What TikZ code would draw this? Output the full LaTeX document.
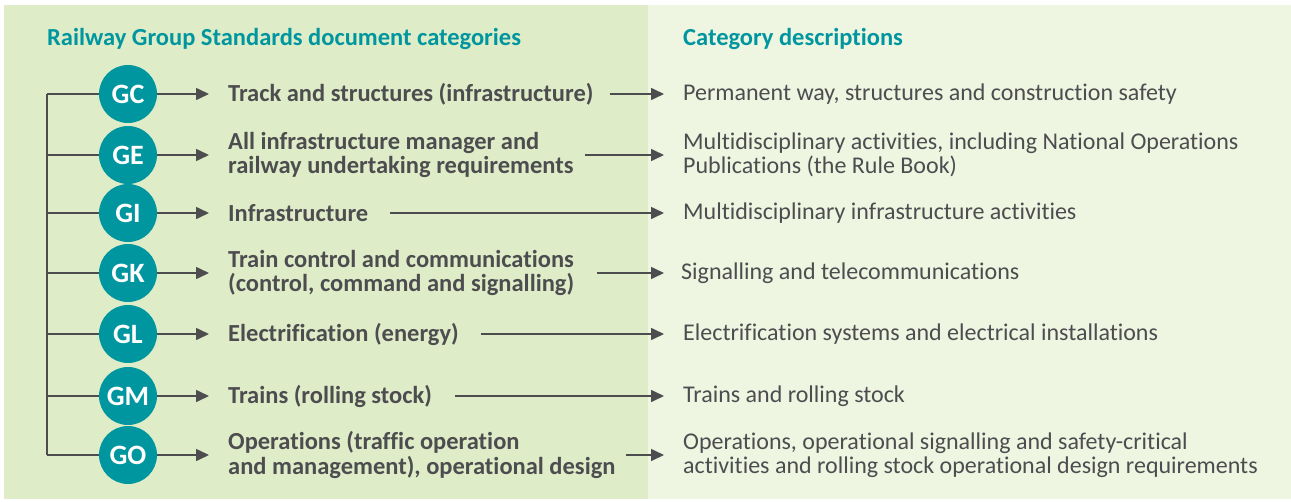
\documentclass[tikz,border=0pt]{standalone}
\usepackage{fontspec}
\setmainfont{Carlito}[Ligatures=NoCommon]
\usetikzlibrary{arrows.meta,positioning}

\definecolor{panelleft}{HTML}{DFECC8}
\definecolor{panelright}{HTML}{EEF5E1}
\definecolor{rsteal}{HTML}{00969F}
\definecolor{rsgrey}{HTML}{4D4D50}

\begin{document}
\begin{tikzpicture}[x=1pt,y=-1pt]
\tikzset{
  badge/.style={circle, fill=rsteal, text=white, minimum size=58pt, inner sep=0pt, font=\fontsize{28}{28}\selectfont\bfseries},
  cat/.style={anchor=west, align=left, text=rsgrey, inner sep=0pt, font=\fontsize{24.5}{24.5}\selectfont\bfseries},
  desc/.style={anchor=west, align=left, text=rsgrey, inner sep=0pt, font=\fontsize{24}{24.5}\selectfont},
  head/.style={anchor=west, text=rsteal, inner sep=0pt, font=\fontsize{24.5}{24}\selectfont\bfseries},
  trunk/.style={draw=rsgrey, line width=1.6pt},
  link/.style={draw=rsgrey, line width=1.6pt, -{Triangle[length=13pt,width=12pt]}}
}
\useasboundingbox (0,0) rectangle (1291,501);
\fill[panelleft] (4,5) rectangle (648,499);
\fill[panelright] (648,5) rectangle (1291,499);

% headings
\node[head] (lefthead) at (47,39) {Railway Group Standards document categories};
\node[head] (righthead) at (683,39) {Category descriptions};

% badges
\node[badge] (gc) at (128,94) {GC};
\node[badge] (ge) at (128,155) {GE};
\node[badge] (gi) at (128,213) {GI};
\node[badge] (gk) at (128,273) {GK};
\node[badge] (gl) at (128,334) {GL};
\node[badge] (gm) at (128,396) {GM};
\node[badge] (go) at (128,455) {GO};

% categories
\node[cat] (catgc) at (228,94) {Track and structures (infrastructure)};
\node[cat] (catge) at (228,155) {All infrastructure manager and\\railway undertaking requirements};
\node[cat] (catgi) at (228,213) {Infrastructure};
\node[cat] (catgk) at (228,273) {Train control and communications\\(control, command and signalling)};
\node[cat] (catgl) at (228,334) {Electrification (energy)};
\node[cat] (catgm) at (228,396) {Trains (rolling stock)};
\node[cat] (catgo) at (228,455) {Operations (traffic operation\\and management), operational design};

% descriptions
\node[desc] (descgc) at (683,94) {Permanent way, structures and construction safety};
\node[desc] (descge) at (683,155) {Multidisciplinary activities, including National Operations\\Publications (the Rule Book)};
\node[desc] (descgi) at (683,213) {Multidisciplinary infrastructure activities};
\node[desc] (descgk) at (681,273) {Signalling and telecommunications};
\node[desc] (descgl) at (683,334) {Electrification systems and electrical installations};
\node[desc] (descgm) at (683,396) {Trains and rolling stock};
\node[desc] (descgo) at (683,455) {Operations, operational signalling and safety-critical\\activities and rolling stock operational design requirements};

% trunk line
\coordinate (trunktop) at (47,94);
\coordinate (trunkbot) at (47,455);
\draw[trunk] (trunktop) -- (trunkbot);
\draw[trunk] (trunktop) -- (gc);
\draw[trunk] (ge -| trunktop) -- (ge);
\draw[trunk] (gi -| trunktop) -- (gi);
\draw[trunk] (gk -| trunktop) -- (gk);
\draw[trunk] (gl -| trunktop) -- (gl);
\draw[trunk] (gm -| trunktop) -- (gm);
\draw[trunk] (trunkbot) -- (go);

% badge to category
\draw[link] (gc) -- ([xshift=-19pt]catgc.west);
\draw[link] (ge) -- ([xshift=-19pt]catge.west);
\draw[link] (gi) -- ([xshift=-19pt]catgi.west);
\draw[link] (gk) -- ([xshift=-19pt]catgk.west);
\draw[link] (gl) -- ([xshift=-19pt]catgl.west);
\draw[link] (gm) -- ([xshift=-19pt]catgm.west);
\draw[link] (go) -- ([xshift=-19pt]catgo.west);

% category to description
\draw[link] ([xshift=16pt]catgc.east) -- ([xshift=-19pt]descgc.west);
\draw[link] ([xshift=11pt]catge.east) -- ([xshift=-19pt]descge.west);
\draw[link] ([xshift=22pt]catgi.east) -- ([xshift=-19pt]descgi.west);
\draw[link] ([xshift=23pt]catgk.east) -- ([xshift=-17pt]descgk.west);
\draw[link] ([xshift=22pt]catgl.east) -- ([xshift=-19pt]descgl.west);
\draw[link] ([xshift=23pt]catgm.east) -- ([xshift=-19pt]descgm.west);
\draw[link] ([xshift=10pt]catgo.east) -- ([xshift=-19pt]descgo.west);
\end{tikzpicture}
\end{document}
